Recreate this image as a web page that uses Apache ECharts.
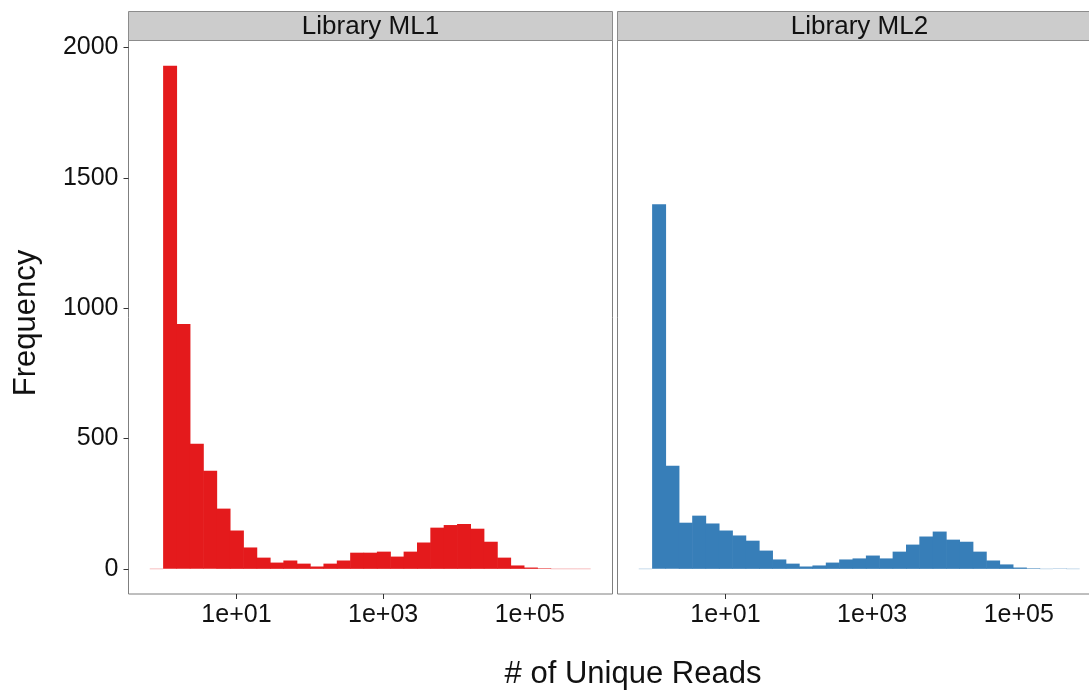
<!DOCTYPE html>
<html>
<head>
<meta charset="utf-8">
<title>Unique reads per library</title>
<script src="https://cdn.jsdelivr.net/npm/echarts@6/dist/echarts.min.js"></script>
<style>
  html, body { margin: 0; padding: 0; background: #ffffff; }
  #chart { width: 1089px; height: 694px; }
</style>
</head>
<body>
<div id="chart"></div>
<script>
// Histogram bins on log10(# unique reads); first and last bins are empty padding bins.
const binStart = -0.1822;
const binWidth = 0.1822;

const libraries = ['Library ML1', 'Library ML2'];

const countsML1 = [0, 1930, 939, 480, 376, 231, 147, 82, 43, 24, 32, 20, 9, 20, 32,
  62, 62, 66, 47, 66, 101, 158, 168, 172, 154, 104, 43, 13, 5, 2, 0, 0, 0];

const countsML2 = [0, 1398, 395, 177, 204, 174, 147, 128, 108, 70, 36, 20, 9, 13, 24,
  36, 40, 51, 40, 66, 93, 124, 143, 112, 104, 66, 32, 17, 5, 2, 0, 1, 0];

const xTickValues = [1, 3, 5];            // log10 positions: 1e+01, 1e+03, 1e+05
const yTickValues = [0, 500, 1000, 1500, 2000];

const colors = ['#E41A1C', '#377EB8'];

const FONT = "'Liberation Sans', Arial, Helvetica, sans-serif";

function toBins(counts) {
  return counts.map((n, i) => [binStart + i * binWidth, binStart + (i + 1) * binWidth, n]);
}

// panel geometry
const panelTop = 40.5, panelHeight = 553.5, panelWidth = 484;
const panelLefts = [128.5, 617.5];
const stripTop = 11.5, stripHeight = 29;

const xMin = -0.472, xMax = 6.128;
const yMin = -96.5, yMax = 2026.5;

function renderBin(color) {
  return function (params, api) {
    const x0 = api.value(0), x1 = api.value(1), n = api.value(2);
    const p0 = api.coord([x0, 0]);
    const p1 = api.coord([x1, n]);
    if (n === 0) {
      return {
        type: 'line',
        shape: { x1: p0[0], y1: p0[1], x2: p1[0], y2: p0[1] },
        style: { stroke: color, lineWidth: 1, opacity: 0.28 }
      };
    }
    // slight overlap so neighbouring bars join without hairline seams
    return {
      type: 'rect',
      shape: { x: p0[0], y: p1[1], width: p1[0] - p0[0] + 0.6, height: p0[1] - p1[1] },
      style: { fill: color }
    };
  };
}

const grids = panelLefts.map(left => ({
  left: left, top: panelTop, width: panelWidth, height: panelHeight,
  containLabel: false, outerBoundsMode: 'none',
  show: true, borderColor: '#7f7f7f', borderWidth: 1, backgroundColor: 'transparent'
}));

const xAxes = panelLefts.map((_, i) => ({
  type: 'value', gridIndex: i, min: xMin, max: xMax, position: 'bottom',
  axisLine: { show: false, onZero: false },
  splitLine: { show: false },
  axisTick: { show: true, inside: false, customValues: xTickValues, length: 5,
              lineStyle: { color: '#333333', width: 1 } },
  axisLabel: {
    show: true, customValues: xTickValues, margin: 9,
    fontFamily: FONT, fontSize: 25, color: '#111111',
    formatter: v => '1e+' + String(Math.round(v)).padStart(2, '0')
  }
}));

const yAxes = panelLefts.map((_, i) => ({
  type: 'value', gridIndex: i, min: yMin, max: yMax, position: 'left',
  axisLine: { show: false, onZero: false },
  splitLine: { show: false },
  axisTick: { show: i === 0, inside: false, customValues: yTickValues, length: 5,
              lineStyle: { color: '#333333', width: 1 } },
  axisLabel: {
    show: i === 0, customValues: yTickValues, margin: 10,
    fontFamily: FONT, fontSize: 25, color: '#111111',
    formatter: v => String(Math.round(v))
  }
}));

const series = [countsML1, countsML2].map((counts, i) => ({
  type: 'custom', name: libraries[i],
  xAxisIndex: i, yAxisIndex: i,
  data: toBins(counts),
  renderItem: renderBin(colors[i]),
  silent: true
}));

const graphic = [];
panelLefts.forEach((left, i) => {
  graphic.push({
    type: 'rect', silent: true,
    shape: { x: left, y: stripTop, width: panelWidth, height: stripHeight },
    style: { fill: '#cccccc', stroke: '#8c8c8c', lineWidth: 1 }
  });
  graphic.push({
    type: 'text', silent: true,
    x: left + panelWidth / 2, y: stripTop + stripHeight / 2 + 1,
    style: { text: libraries[i], fontFamily: FONT, fontSize: 26, fill: '#111111',
             textAlign: 'center', textVerticalAlign: 'middle' }
  });
});
graphic.push({
  type: 'text', silent: true, x: 633, y: 674,
  style: { text: '# of Unique Reads', fontFamily: FONT, fontSize: 31, fill: '#111111',
           textAlign: 'center', textVerticalAlign: 'middle' }
});
graphic.push({
  type: 'text', silent: true, x: 26, y: 323, rotation: Math.PI / 2,
  style: { text: 'Frequency', fontFamily: FONT, fontSize: 31, fill: '#111111',
           textAlign: 'center', textVerticalAlign: 'middle' }
});

const chart = echarts.init(document.getElementById('chart'), null, { renderer: 'canvas' });
chart.setOption({
  animation: false,
  backgroundColor: '#ffffff',
  grid: grids,
  xAxis: xAxes,
  yAxis: yAxes,
  series: series,
  graphic: graphic
});
</script>
</body>
</html>
